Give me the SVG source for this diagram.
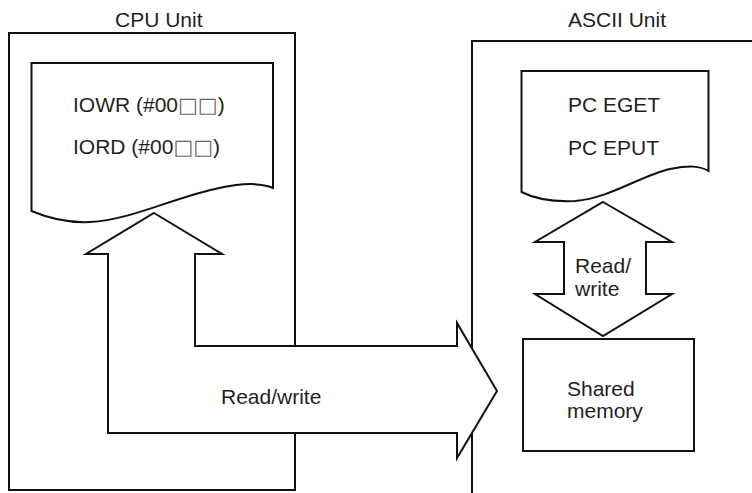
<svg xmlns="http://www.w3.org/2000/svg" width="752" height="493" viewBox="0 0 752 493">
<style>
.ln{fill:#fff;stroke:#111;stroke-width:2;stroke-linejoin:miter}
.tx{font-family:"Liberation Sans",Arial,"DejaVu Sans",sans-serif;font-size:21px;fill:#231f20}
.bx{font-family:"DejaVu Sans",sans-serif;fill:#666}
</style>
<rect width="752" height="493" fill="#fff"/>
<g id="cpu-unit">
<rect class="ln" x="9" y="33" width="286" height="457"/>
<text class="tx" x="115" y="27">CPU Unit</text>
</g>
<g id="ascii-unit">
<rect class="ln" x="472" y="41" width="300" height="470"/>
<text class="tx" x="568" y="27">ASCII Unit</text>
</g>
<g id="cpu-program">
<path class="ln" d="M31.5,211 L31.5,63 L273,63 L273,188 C262,183 245,182 215,189 C170,199 130,220 90,222 C68,223 48,218 31.5,211 Z"/>
<text class="tx" x="73" y="112">IOWR (#00<tspan class="bx">□□</tspan>)</text>
<text class="tx" x="73" y="154">IORD (#00<tspan class="bx">□□</tspan>)</text>
</g>
<g id="ascii-program">
<path class="ln" d="M521.5,192 L521.5,71 L708.5,71 L708.5,171 C700,166 690,165 670,169 C640,176 610,198 575,201 C550,202 533,198 521.5,192 Z"/>
<text class="tx" x="568" y="112">PC EGET</text>
<text class="tx" x="568" y="155">PC EPUT</text>
</g>
<g id="shared-memory">
<rect class="ln" x="523" y="339" width="171" height="112"/>
<text class="tx" x="567" y="396">Shared</text>
<text class="tx" x="567" y="418">memory</text>
</g>
<g id="connectors">
<g id="cpu-readwrite-arrow">
<polygon class="ln" points="154,213 222,254 195,254 195,346 457,346 457,323 497,391 457,458 457,433 108,433 108,254 86,254"/>
<text class="tx" x="221" y="404">Read/write</text>
</g>
<g id="ascii-readwrite-arrow">
<polygon class="ln" points="603,202 672,242 646,242 646,294 672,294 603,336 535,294 564,294 564,242 535,242"/>
<text class="tx" x="575" y="273">Read/</text>
<text class="tx" x="575" y="296">write</text>
</g>
</g>
</svg>
